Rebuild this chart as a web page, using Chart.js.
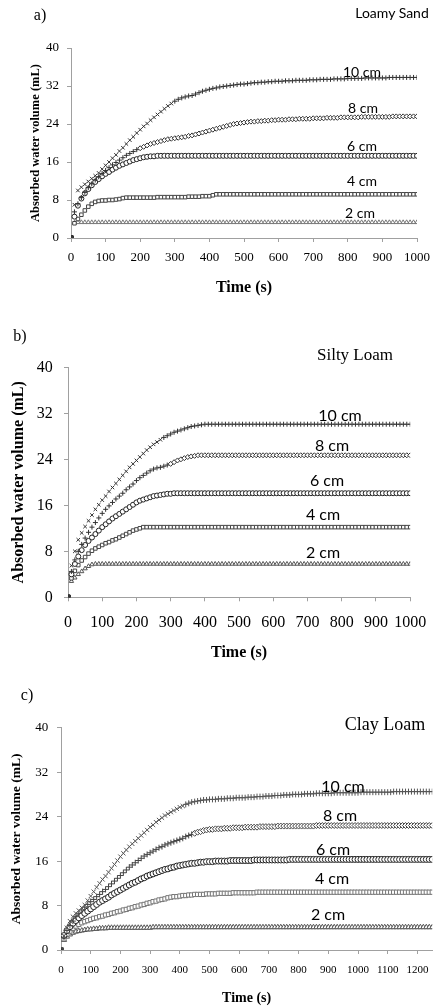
<!DOCTYPE html>
<html>
<head>
<meta charset="utf-8">
<script src="https://cdn.jsdelivr.net/npm/chart.js@4.4.0/dist/chart.umd.min.js"></script>
<style>
  body { margin: 0; background: #fff; width: 438px; height: 1007px; overflow: hidden; position: relative; }
  canvas { position: absolute; left: 0; }
  .lbl { position: absolute; transform: translate(-50%, -50%); white-space: nowrap; color: #000; line-height: 1; }
  .serif { font-family: "Liberation Serif", "Times New Roman", serif; }
  .sans { font-family: Lato, "Noto Sans", sans-serif; }
</style>
</head>
<body>
<canvas id="chartA" width="438" height="305" style="top:0px"></canvas>
<canvas id="chartB" width="438" height="365" style="top:310px"></canvas>
<canvas id="chartC" width="438" height="327" style="top:680px"></canvas>

<!-- panel letters and soil names -->
<div class="lbl serif" style="left:40px;top:15px;font-size:16px">a)</div>
<div class="lbl sans" style="left:392px;top:13px;font-size:14px">Loamy Sand</div>
<div class="lbl serif" style="left:20px;top:336px;font-size:16px">b)</div>
<div class="lbl serif" style="left:355px;top:354px;font-size:17px">Silty Loam</div>
<div class="lbl serif" style="left:27px;top:695px;font-size:16px">c)</div>
<div class="lbl serif" style="left:385px;top:724px;font-size:18px">Clay Loam</div>

<!-- depth labels -->
<div class="lbl sans" style="left:362px;top:72px;font-size:14px">10 cm</div>
<div class="lbl sans" style="left:363px;top:108px;font-size:14px">8 cm</div>
<div class="lbl sans" style="left:362px;top:146px;font-size:14px">6 cm</div>
<div class="lbl sans" style="left:362px;top:181px;font-size:14px">4 cm</div>
<div class="lbl sans" style="left:360px;top:213px;font-size:14px">2 cm</div>

<div class="lbl sans" style="left:340px;top:415px;font-size:16px">10 cm</div>
<div class="lbl sans" style="left:332px;top:445px;font-size:16px">8 cm</div>
<div class="lbl sans" style="left:327px;top:480px;font-size:16px">6 cm</div>
<div class="lbl sans" style="left:323px;top:514px;font-size:16px">4 cm</div>
<div class="lbl sans" style="left:323px;top:552px;font-size:16px">2 cm</div>

<div class="lbl sans" style="left:343px;top:786px;font-size:16px">10 cm</div>
<div class="lbl sans" style="left:340px;top:815px;font-size:16px">8 cm</div>
<div class="lbl sans" style="left:333px;top:849px;font-size:16px">6 cm</div>
<div class="lbl sans" style="left:332px;top:878px;font-size:16px">4 cm</div>
<div class="lbl sans" style="left:328px;top:914px;font-size:16px">2 cm</div>

<script>
// Time axis (s)
const time1000 = [
  0, 10, 20, 30, 40, 50, 60, 70, 80, 90,
  100, 110, 120, 130, 140, 150, 160, 170, 180, 190,
  200, 210, 220, 230, 240, 250, 260, 270, 280, 290,
  300, 310, 320, 330, 340, 350, 360, 370, 380, 390,
  400, 410, 420, 430, 440, 450, 460, 470, 480, 490,
  500, 510, 520, 530, 540, 550, 560, 570, 580, 590,
  600, 610, 620, 630, 640, 650, 660, 670, 680, 690,
  700, 710, 720, 730, 740, 750, 760, 770, 780, 790,
  800, 810, 820, 830, 840, 850, 860, 870, 880, 890,
  900, 910, 920, 930, 940, 950, 960, 970, 980, 990,
  1000
];
const time1250 = [
  0, 10, 20, 30, 40, 50, 60, 70, 80, 90,
  100, 110, 120, 130, 140, 150, 160, 170, 180, 190,
  200, 210, 220, 230, 240, 250, 260, 270, 280, 290,
  300, 310, 320, 330, 340, 350, 360, 370, 380, 390,
  400, 410, 420, 430, 440, 450, 460, 470, 480, 490,
  500, 510, 520, 530, 540, 550, 560, 570, 580, 590,
  600, 610, 620, 630, 640, 650, 660, 670, 680, 690,
  700, 710, 720, 730, 740, 750, 760, 770, 780, 790,
  800, 810, 820, 830, 840, 850, 860, 870, 880, 890,
  900, 910, 920, 930, 940, 950, 960, 970, 980, 990,
  1000, 1010, 1020, 1030, 1040, 1050, 1060, 1070, 1080, 1090,
  1100, 1110, 1120, 1130, 1140, 1150, 1160, 1170, 1180, 1190,
  1200, 1210, 1220, 1230, 1240, 1250
];

const depths = ['10 cm', '8 cm', '6 cm', '4 cm', '2 cm'];
const yTicks = [0, 8, 16, 24, 32, 40];

// a) Loamy Sand - absorbed water (mL)
const sand10 = [
  0, 7.0, 10.0, 10.7, 11.3, 11.9, 12.5, 13.1, 13.7, 14.5,
  15.3, 16.0, 16.8, 17.5, 18.3, 19.0, 19.8, 20.6, 21.3, 22.1,
  22.8, 23.5, 24.1, 24.8, 25.4, 26.0, 26.6, 27.2, 27.8, 28.3,
  28.8, 29.2, 29.5, 29.7, 29.9, 30.0, 30.3, 30.6, 30.9, 31.1,
  31.3, 31.5, 31.6, 31.8, 31.9, 32.0, 32.1, 32.2, 32.3, 32.4,
  32.4, 32.5, 32.6, 32.7, 32.7, 32.8, 32.8, 32.9, 32.9, 33.0,
  33.0, 33.0, 33.1, 33.1, 33.1, 33.2, 33.2, 33.2, 33.2, 33.3,
  33.3, 33.3, 33.4, 33.4, 33.4, 33.4, 33.5, 33.5, 33.5, 33.5,
  33.6, 33.6, 33.6, 33.6, 33.6, 33.7, 33.7, 33.7, 33.7, 33.7,
  33.7, 33.7, 33.8, 33.8, 33.8, 33.8, 33.8, 33.8, 33.8, 33.8,
  33.8
];
const sand8 = [
  0, 5.5, 7.2, 8.5, 9.6, 10.6, 11.4, 12.2, 12.9, 13.6,
  14.2, 14.8, 15.4, 15.9, 16.4, 16.9, 17.4, 17.8, 18.2, 18.6,
  18.9, 19.2, 19.5, 19.8, 20.0, 20.2, 20.4, 20.6, 20.8, 20.9,
  21.0, 21.1, 21.2, 21.3, 21.5, 21.6, 21.8, 22.0, 22.2, 22.4,
  22.6, 22.8, 23.0, 23.2, 23.4, 23.6, 23.8, 24.0, 24.1, 24.2,
  24.3, 24.4, 24.5, 24.5, 24.6, 24.6, 24.7, 24.7, 24.8, 24.8,
  24.9, 24.9, 24.9, 25.0, 25.0, 25.0, 25.1, 25.1, 25.1, 25.1,
  25.2, 25.2, 25.2, 25.2, 25.3, 25.3, 25.3, 25.3, 25.4, 25.4,
  25.4, 25.4, 25.4, 25.4, 25.5, 25.5, 25.5, 25.5, 25.5, 25.5,
  25.5, 25.5, 25.5, 25.6, 25.6, 25.6, 25.6, 25.6, 25.6, 25.6,
  25.6
];
const sand6 = [
  0, 4.5, 6.8, 8.3, 9.4, 10.3, 11.1, 11.8, 12.4, 13.0,
  13.5, 13.9, 14.4, 14.8, 15.2, 15.5, 15.8, 16.1, 16.4, 16.6,
  16.8, 17.0, 17.1, 17.2, 17.2, 17.3, 17.3, 17.3, 17.3, 17.3,
  17.3, 17.3, 17.3, 17.3, 17.3, 17.3, 17.3, 17.3, 17.3, 17.3,
  17.3, 17.3, 17.3, 17.3, 17.3, 17.3, 17.3, 17.3, 17.3, 17.3,
  17.3, 17.3, 17.3, 17.3, 17.3, 17.3, 17.3, 17.3, 17.3, 17.3,
  17.3, 17.3, 17.3, 17.3, 17.3, 17.3, 17.3, 17.3, 17.3, 17.3,
  17.3, 17.3, 17.3, 17.3, 17.3, 17.3, 17.3, 17.3, 17.3, 17.3,
  17.3, 17.3, 17.3, 17.3, 17.3, 17.3, 17.3, 17.3, 17.3, 17.3,
  17.3, 17.3, 17.3, 17.3, 17.3, 17.3, 17.3, 17.3, 17.3, 17.3,
  17.3
];
const sand4 = [
  0, 3.1, 4.0, 4.9, 5.8, 6.6, 7.2, 7.6, 7.8, 7.9,
  7.9, 8.0, 8.0, 8.1, 8.2, 8.4, 8.5, 8.5, 8.5, 8.5,
  8.5, 8.5, 8.5, 8.5, 8.5, 8.6, 8.6, 8.6, 8.6, 8.6,
  8.6, 8.6, 8.6, 8.6, 8.7, 8.7, 8.7, 8.7, 8.8, 8.8,
  8.8, 9.0, 9.2, 9.2, 9.2, 9.2, 9.2, 9.2, 9.2, 9.2,
  9.2, 9.2, 9.2, 9.2, 9.2, 9.2, 9.2, 9.2, 9.2, 9.2,
  9.2, 9.2, 9.2, 9.2, 9.2, 9.2, 9.2, 9.2, 9.2, 9.2,
  9.2, 9.2, 9.2, 9.2, 9.2, 9.2, 9.2, 9.2, 9.2, 9.2,
  9.2, 9.2, 9.2, 9.2, 9.2, 9.2, 9.2, 9.2, 9.2, 9.2,
  9.2, 9.2, 9.2, 9.2, 9.2, 9.2, 9.2, 9.2, 9.2, 9.2,
  9.2
];
const sand2 = [
  0, 3.2, 3.3, 3.3, 3.3, 3.3, 3.3, 3.3, 3.3, 3.3,
  3.3, 3.3, 3.3, 3.3, 3.3, 3.3, 3.3, 3.3, 3.3, 3.3,
  3.3, 3.3, 3.3, 3.3, 3.3, 3.3, 3.3, 3.3, 3.3, 3.3,
  3.3, 3.3, 3.3, 3.3, 3.3, 3.3, 3.3, 3.3, 3.3, 3.3,
  3.3, 3.3, 3.3, 3.3, 3.3, 3.3, 3.3, 3.3, 3.3, 3.3,
  3.3, 3.3, 3.3, 3.3, 3.3, 3.3, 3.3, 3.3, 3.3, 3.3,
  3.3, 3.3, 3.3, 3.3, 3.3, 3.3, 3.3, 3.3, 3.3, 3.3,
  3.3, 3.3, 3.3, 3.3, 3.3, 3.3, 3.3, 3.3, 3.3, 3.3,
  3.3, 3.3, 3.3, 3.3, 3.3, 3.3, 3.3, 3.3, 3.3, 3.3,
  3.3, 3.3, 3.3, 3.3, 3.3, 3.3, 3.3, 3.3, 3.3, 3.3,
  3.3
];

// b) Silty Loam
const silt10 = [
  0, 5.5, 8.0, 10.0, 11.2, 12.3, 13.3, 14.3, 15.3, 16.1,
  16.9, 17.6, 18.4, 19.1, 19.8, 20.5, 21.2, 21.9, 22.6, 23.2,
  23.8, 24.4, 25.0, 25.6, 26.1, 26.6, 27.0, 27.4, 27.8, 28.1,
  28.4, 28.7, 28.9, 29.1, 29.3, 29.5, 29.7, 29.8, 29.9, 30.0,
  30.1, 30.1, 30.1, 30.1, 30.1, 30.1, 30.1, 30.1, 30.1, 30.1,
  30.1, 30.1, 30.1, 30.1, 30.1, 30.1, 30.1, 30.1, 30.1, 30.1,
  30.1, 30.1, 30.1, 30.1, 30.1, 30.1, 30.1, 30.1, 30.1, 30.1,
  30.1, 30.1, 30.1, 30.1, 30.1, 30.1, 30.1, 30.1, 30.1, 30.1,
  30.1, 30.1, 30.1, 30.1, 30.1, 30.1, 30.1, 30.1, 30.1, 30.1,
  30.1, 30.1, 30.1, 30.1, 30.1, 30.1, 30.1, 30.1, 30.1, 30.1,
  30.1
];
const silt8 = [
  0, 4.5, 6.5, 8.0, 9.2, 10.3, 11.3, 12.2, 13.0, 13.8,
  14.6, 15.3, 15.9, 16.5, 17.1, 17.6, 18.1, 18.7, 19.2, 19.7,
  20.3, 20.8, 21.2, 21.6, 22.0, 22.3, 22.5, 22.6, 22.8, 23.0,
  23.2, 23.5, 23.8, 24.0, 24.2, 24.4, 24.5, 24.6, 24.7, 24.7,
  24.7, 24.7, 24.7, 24.7, 24.7, 24.7, 24.7, 24.7, 24.7, 24.7,
  24.7, 24.7, 24.7, 24.7, 24.7, 24.7, 24.7, 24.7, 24.7, 24.7,
  24.7, 24.7, 24.7, 24.7, 24.7, 24.7, 24.7, 24.7, 24.7, 24.7,
  24.7, 24.7, 24.7, 24.7, 24.7, 24.7, 24.7, 24.7, 24.7, 24.7,
  24.7, 24.7, 24.7, 24.7, 24.7, 24.7, 24.7, 24.7, 24.7, 24.7,
  24.7, 24.7, 24.7, 24.7, 24.7, 24.7, 24.7, 24.7, 24.7, 24.7,
  24.7
];
const silt6 = [
  0, 4.0, 5.8, 7.1, 8.2, 9.1, 9.8, 10.4, 11.0, 11.6,
  12.2, 12.7, 13.2, 13.7, 14.1, 14.5, 14.9, 15.3, 15.7, 16.1,
  16.5, 16.8, 17.0, 17.2, 17.4, 17.6, 17.7, 17.8, 17.9, 18.0,
  18.0, 18.1, 18.1, 18.1, 18.1, 18.1, 18.1, 18.1, 18.1, 18.1,
  18.1, 18.1, 18.1, 18.1, 18.1, 18.1, 18.1, 18.1, 18.1, 18.1,
  18.1, 18.1, 18.1, 18.1, 18.1, 18.1, 18.1, 18.1, 18.1, 18.1,
  18.1, 18.1, 18.1, 18.1, 18.1, 18.1, 18.1, 18.1, 18.1, 18.1,
  18.1, 18.1, 18.1, 18.1, 18.1, 18.1, 18.1, 18.1, 18.1, 18.1,
  18.1, 18.1, 18.1, 18.1, 18.1, 18.1, 18.1, 18.1, 18.1, 18.1,
  18.1, 18.1, 18.1, 18.1, 18.1, 18.1, 18.1, 18.1, 18.1, 18.1,
  18.1
];
const silt4 = [
  0, 3.3, 4.6, 5.6, 6.4, 7.0, 7.6, 8.1, 8.5, 8.8,
  9.1, 9.4, 9.6, 9.9, 10.1, 10.4, 10.7, 11.0, 11.3, 11.6,
  11.8, 12.0, 12.2, 12.2, 12.2, 12.2, 12.2, 12.2, 12.2, 12.2,
  12.2, 12.2, 12.2, 12.2, 12.2, 12.2, 12.2, 12.2, 12.2, 12.2,
  12.2, 12.2, 12.2, 12.2, 12.2, 12.2, 12.2, 12.2, 12.2, 12.2,
  12.2, 12.2, 12.2, 12.2, 12.2, 12.2, 12.2, 12.2, 12.2, 12.2,
  12.2, 12.2, 12.2, 12.2, 12.2, 12.2, 12.2, 12.2, 12.2, 12.2,
  12.2, 12.2, 12.2, 12.2, 12.2, 12.2, 12.2, 12.2, 12.2, 12.2,
  12.2, 12.2, 12.2, 12.2, 12.2, 12.2, 12.2, 12.2, 12.2, 12.2,
  12.2, 12.2, 12.2, 12.2, 12.2, 12.2, 12.2, 12.2, 12.2, 12.2,
  12.2
];
const silt2 = [
  0, 2.8, 3.4, 4.0, 4.5, 5.0, 5.4, 5.7, 5.8, 5.8,
  5.8, 5.8, 5.8, 5.8, 5.8, 5.8, 5.8, 5.8, 5.8, 5.8,
  5.8, 5.8, 5.8, 5.8, 5.8, 5.8, 5.8, 5.8, 5.8, 5.8,
  5.8, 5.8, 5.8, 5.8, 5.8, 5.8, 5.8, 5.8, 5.8, 5.8,
  5.8, 5.8, 5.8, 5.8, 5.8, 5.8, 5.8, 5.8, 5.8, 5.8,
  5.8, 5.8, 5.8, 5.8, 5.8, 5.8, 5.8, 5.8, 5.8, 5.8,
  5.8, 5.8, 5.8, 5.8, 5.8, 5.8, 5.8, 5.8, 5.8, 5.8,
  5.8, 5.8, 5.8, 5.8, 5.8, 5.8, 5.8, 5.8, 5.8, 5.8,
  5.8, 5.8, 5.8, 5.8, 5.8, 5.8, 5.8, 5.8, 5.8, 5.8,
  5.8, 5.8, 5.8, 5.8, 5.8, 5.8, 5.8, 5.8, 5.8, 5.8,
  5.8
];

// c) Clay Loam
const clay10 = [
  0, 2.5, 4.0, 5.2, 6.0, 6.6, 7.1, 7.6, 8.1, 8.9,
  9.7, 10.5, 11.3, 12.0, 12.7, 13.3, 14.0, 14.7, 15.4, 16.1,
  16.8, 17.4, 18.0, 18.6, 19.1, 19.6, 20.1, 20.6, 21.1, 21.6,
  22.1, 22.5, 23.0, 23.4, 23.8, 24.2, 24.5, 24.8, 25.1, 25.4,
  25.7, 25.9, 26.2, 26.4, 26.6, 26.7, 26.8, 26.9, 27.0, 27.0,
  27.1, 27.1, 27.1, 27.2, 27.2, 27.2, 27.3, 27.3, 27.3, 27.4,
  27.4, 27.4, 27.4, 27.5, 27.5, 27.5, 27.6, 27.6, 27.6, 27.7,
  27.7, 27.7, 27.8, 27.8, 27.8, 27.9, 27.9, 27.9, 28.0, 28.0,
  28.0, 28.0, 28.1, 28.1, 28.1, 28.1, 28.2, 28.2, 28.2, 28.2,
  28.2, 28.2, 28.3, 28.3, 28.3, 28.3, 28.3, 28.3, 28.3, 28.3,
  28.3, 28.4, 28.4, 28.4, 28.4, 28.4, 28.4, 28.4, 28.4, 28.4,
  28.4, 28.4, 28.5, 28.5, 28.5, 28.5, 28.5, 28.5, 28.5, 28.5,
  28.5, 28.5, 28.5, 28.5, 28.5, 28.5
];
const clay8 = [
  0, 2.3, 3.5, 4.4, 5.2, 6.0, 6.6, 7.2, 7.7, 8.2,
  8.7, 9.1, 9.6, 10.0, 10.5, 10.9, 11.4, 11.9, 12.4, 12.9,
  13.4, 13.9, 14.4, 14.9, 15.3, 15.7, 16.1, 16.5, 16.9, 17.2,
  17.5, 17.8, 18.1, 18.4, 18.6, 18.9, 19.1, 19.3, 19.5, 19.7,
  19.9, 20.1, 20.4, 20.6, 20.8, 21.0, 21.2, 21.3, 21.5, 21.6,
  21.7, 21.7, 21.8, 21.8, 21.8, 21.9, 21.9, 21.9, 22.0, 22.0,
  22.0, 22.0, 22.1, 22.1, 22.1, 22.1, 22.1, 22.2, 22.2, 22.2,
  22.2, 22.2, 22.2, 22.3, 22.3, 22.3, 22.3, 22.3, 22.3, 22.3,
  22.3, 22.3, 22.3, 22.3, 22.3, 22.3, 22.4, 22.4, 22.4, 22.4,
  22.4, 22.4, 22.4, 22.4, 22.4, 22.4, 22.4, 22.4, 22.4, 22.4,
  22.4, 22.4, 22.4, 22.4, 22.4, 22.4, 22.4, 22.4, 22.4, 22.4,
  22.4, 22.4, 22.4, 22.4, 22.4, 22.4, 22.4, 22.4, 22.4, 22.4,
  22.4, 22.4, 22.4, 22.4, 22.4, 22.4
];
const clay6 = [
  0, 2.6, 3.5, 4.2, 4.8, 5.3, 5.8, 6.2, 6.6, 7.0,
  7.4, 7.8, 8.2, 8.6, 8.9, 9.2, 9.5, 9.9, 10.2, 10.5,
  10.8, 11.1, 11.4, 11.7, 12.0, 12.2, 12.5, 12.8, 13.0, 13.3,
  13.5, 13.7, 13.9, 14.1, 14.3, 14.5, 14.6, 14.8, 14.9, 15.1,
  15.2, 15.3, 15.4, 15.5, 15.6, 15.6, 15.7, 15.8, 15.8, 15.9,
  15.9, 15.9, 16.0, 16.0, 16.0, 16.0, 16.0, 16.1, 16.1, 16.1,
  16.1, 16.1, 16.1, 16.1, 16.1, 16.2, 16.2, 16.2, 16.2, 16.2,
  16.2, 16.2, 16.2, 16.2, 16.2, 16.2, 16.2, 16.3, 16.3, 16.3,
  16.3, 16.3, 16.3, 16.3, 16.3, 16.3, 16.3, 16.3, 16.3, 16.3,
  16.3, 16.3, 16.3, 16.3, 16.3, 16.3, 16.3, 16.3, 16.3, 16.3,
  16.3, 16.3, 16.3, 16.3, 16.3, 16.3, 16.3, 16.3, 16.3, 16.3,
  16.3, 16.3, 16.3, 16.3, 16.3, 16.3, 16.3, 16.3, 16.3, 16.3,
  16.3, 16.3, 16.3, 16.3, 16.3, 16.3
];
const clay4 = [
  0, 2.0, 2.8, 3.4, 3.9, 4.3, 4.6, 4.9, 5.1, 5.3,
  5.5, 5.7, 5.8, 6.0, 6.1, 6.3, 6.4, 6.6, 6.7, 6.9,
  7.0, 7.2, 7.3, 7.5, 7.6, 7.8, 7.9, 8.1, 8.2, 8.4,
  8.5, 8.7, 8.8, 9.0, 9.1, 9.2, 9.4, 9.5, 9.6, 9.6,
  9.7, 9.8, 9.8, 9.9, 9.9, 10.0, 10.0, 10.0, 10.0, 10.1,
  10.1, 10.1, 10.1, 10.2, 10.2, 10.2, 10.2, 10.2, 10.3, 10.3,
  10.3, 10.3, 10.3, 10.3, 10.3, 10.3, 10.4, 10.4, 10.4, 10.4,
  10.4, 10.4, 10.4, 10.4, 10.4, 10.4, 10.4, 10.4, 10.4, 10.4,
  10.4, 10.4, 10.4, 10.4, 10.4, 10.4, 10.4, 10.4, 10.4, 10.4,
  10.4, 10.4, 10.4, 10.4, 10.4, 10.4, 10.4, 10.4, 10.4, 10.4,
  10.4, 10.4, 10.4, 10.4, 10.4, 10.4, 10.4, 10.4, 10.4, 10.4,
  10.4, 10.4, 10.4, 10.4, 10.4, 10.4, 10.4, 10.4, 10.4, 10.4,
  10.4, 10.4, 10.4, 10.4, 10.4, 10.4
];
const clay2 = [
  0, 1.8, 2.4, 2.8, 3.1, 3.3, 3.4, 3.5, 3.6, 3.7,
  3.7, 3.8, 3.8, 3.9, 3.9, 3.9, 4.0, 4.0, 4.0, 4.0,
  4.0, 4.0, 4.0, 4.0, 4.0, 4.0, 4.0, 4.0, 4.0, 4.0,
  4.0, 4.1, 4.1, 4.1, 4.1, 4.1, 4.1, 4.1, 4.1, 4.1,
  4.1, 4.1, 4.1, 4.1, 4.1, 4.1, 4.1, 4.1, 4.1, 4.1,
  4.1, 4.1, 4.1, 4.1, 4.1, 4.1, 4.1, 4.1, 4.1, 4.1,
  4.1, 4.1, 4.1, 4.1, 4.1, 4.1, 4.1, 4.1, 4.1, 4.1,
  4.1, 4.1, 4.1, 4.1, 4.1, 4.1, 4.1, 4.1, 4.1, 4.1,
  4.1, 4.1, 4.1, 4.1, 4.1, 4.1, 4.1, 4.1, 4.1, 4.1,
  4.1, 4.1, 4.1, 4.1, 4.1, 4.1, 4.1, 4.1, 4.1, 4.1,
  4.1, 4.1, 4.1, 4.1, 4.1, 4.1, 4.1, 4.1, 4.1, 4.1,
  4.1, 4.1, 4.1, 4.1, 4.1, 4.1, 4.1, 4.1, 4.1, 4.1,
  4.1, 4.1, 4.1, 4.1, 4.1, 4.1
];

const serif = "'Liberation Serif', 'Times New Roman', serif";

// marker look for one depth: early style, later style, switch time
function pointLook(time, early, late, switchAt, color, radius) {
  return {
    pointStyle: ctx => ctx.dataIndex === 0 ? 'rect' : (time[ctx.dataIndex] < switchAt ? early : late),
    pointRadius: ctx => ctx.dataIndex === 0 ? 3 : radius,
    pointBorderColor: color,
    pointBackgroundColor: ctx => ctx.dataIndex === 0 ? '#333' : '#fff',
    pointBorderWidth: 1
  };
}

function makeChart(id, time, values, looks, s) {
  const datasets = values.map((vals, i) => Object.assign({
    label: depths[i],
    data: vals.map((v, j) => ({ x: time[j], y: v })),
    showLine: false
  }, looks[i]));

  return new Chart(document.getElementById(id), {
    type: 'scatter',
    data: { datasets: datasets },
    options: {
      responsive: false,
      animation: false,
      layout: { padding: { top: s.top, right: s.right, left: 0, bottom: 0 } },
      plugins: { legend: { display: false }, tooltip: { enabled: false } },
      scales: {
        x: {
          type: 'linear', min: 0, max: s.xMax,
          ticks: { stepSize: 100, includeBounds: false, autoSkip: false, maxRotation: 0,
                   format: { useGrouping: false },
                   padding: s.xPad, color: '#000', font: { family: serif, size: s.xFont } },
          grid: { drawOnChartArea: false, drawTicks: true, tickLength: 4, color: '#a0a0a0' },
          border: { color: '#a0a0a0' },
          title: { display: true, text: 'Time (s)', color: '#000',
                   font: { family: serif, size: s.xTitle, weight: 'bold' },
                   padding: { top: 0, bottom: s.xTitlePad } },
          afterFit: scale => { scale.height = s.xHeight; }
        },
        y: {
          min: 0, max: 40,
          afterBuildTicks: scale => { scale.ticks = yTicks.map(v => ({ value: v })); },
          ticks: { padding: s.yPad, color: '#000', font: { family: serif, size: s.yFont } },
          grid: { drawOnChartArea: false, drawTicks: true, tickLength: 4, color: '#a0a0a0' },
          border: { color: '#a0a0a0' },
          title: { display: true, text: 'Absorbed water volume (mL)', color: '#000',
                   font: { family: serif, size: s.yTitle, weight: 'bold' },
                   padding: { top: s.yTitlePad, bottom: 0 } },
          afterFit: scale => { scale.width = s.yWidth; }
        }
      }
    }
  });
}

makeChart('chartA', time1000, [sand10, sand8, sand6, sand4, sand2], [
  pointLook(time1000, 'crossRot', 'cross', 300, '#333', 2.5),
  pointLook(time1000, 'cross', 'rectRot', 200, '#333', 2.5),
  pointLook(time1000, 'circle', 'circle', 0, '#222', 2.5),
  pointLook(time1000, 'rect', 'rect', 0, '#444', 2.5),
  pointLook(time1000, 'triangle', 'triangle', 0, '#777', 2.5)
], { top: 48, right: 14, xMax: 1000, xHeight: 67, yWidth: 71, xFont: 13, yFont: 13,
     xPad: 8, yPad: 8, xTitle: 16, xTitlePad: 8, yTitle: 12.5, yTitlePad: 28.5 });

makeChart('chartB', time1000, [silt10, silt8, silt6, silt4, silt2], [
  pointLook(time1000, 'crossRot', 'cross', 280, '#333', 2.5),
  pointLook(time1000, 'cross', 'rectRot', 300, '#333', 2.5),
  pointLook(time1000, 'circle', 'circle', 0, '#222', 2.5),
  pointLook(time1000, 'rect', 'rect', 0, '#444', 2.5),
  pointLook(time1000, 'triangle', 'triangle', 0, '#555', 2.5)
], { top: 57.3, right: 19.7, xMax: 1000, xHeight: 77.7, yWidth: 68, xFont: 16, yFont: 16,
     xPad: 11.8, yPad: 11.3, xTitle: 16, xTitlePad: 12.7, yTitle: 16, yTitlePad: 9.4 });

makeChart('chartC', time1250, [clay10, clay8, clay6, clay4, clay2], [
  pointLook(time1250, 'crossRot', 'cross', 420, '#555', 3),
  pointLook(time1250, 'cross', 'rectRot', 450, '#444', 3),
  pointLook(time1250, 'circle', 'circle', 0, '#222', 3),
  pointLook(time1250, 'rect', 'rect', 0, '#777', 3),
  pointLook(time1250, 'triangle', 'triangle', 0, '#555', 3)
], { top: 47.7, right: 3.7, xMax: 1250, xHeight: 57, yWidth: 61, xFont: 11, yFont: 13,
     xPad: 9.4, yPad: 8.7, xTitle: 14, xTitlePad: 0.6, yTitle: 13.5, yTitlePad: 8.9 });
</script>
</body>
</html>
